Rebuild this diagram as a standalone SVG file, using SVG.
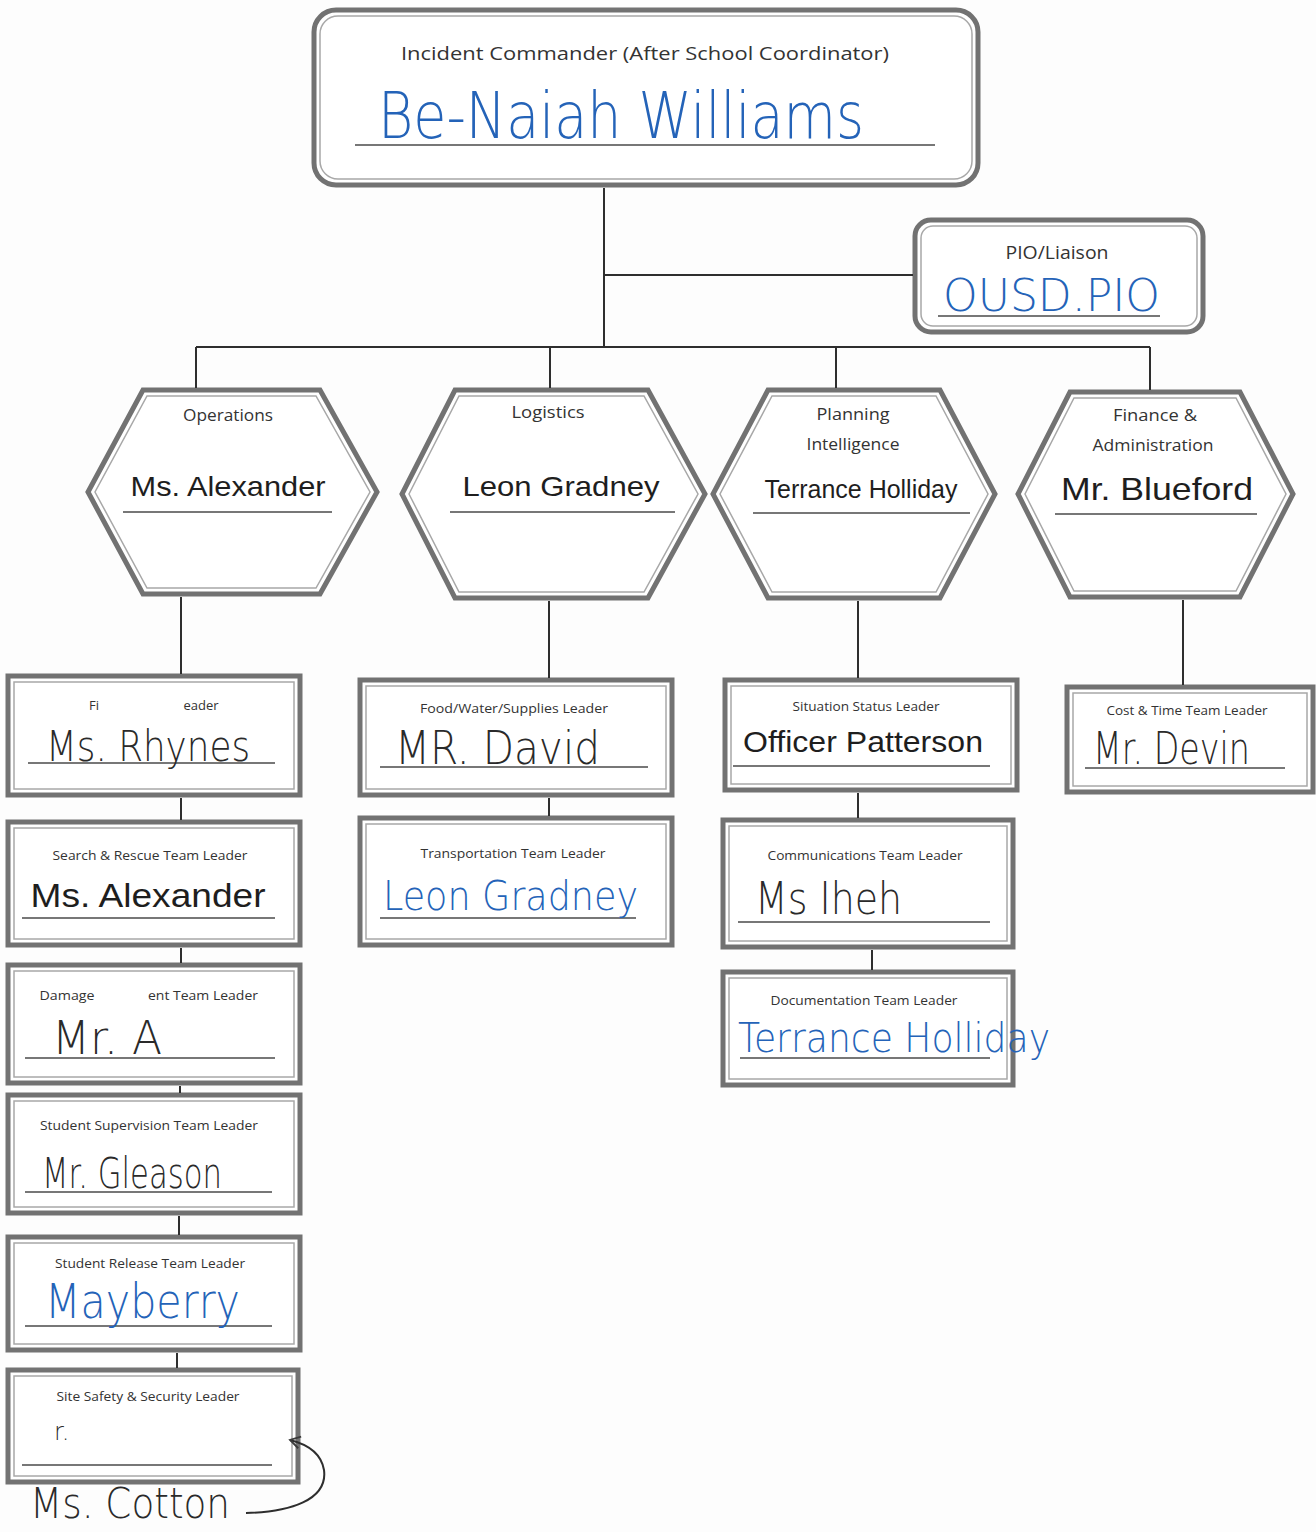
<svg xmlns="http://www.w3.org/2000/svg" width="1316" height="1532" viewBox="0 0 1316 1532">
<style>
.bg{fill:#fdfdfd}
.box{fill:#fff;stroke:#727272;stroke-width:5}
.inner{fill:none;stroke:#a8a8a8;stroke-width:1.5}
.ul{stroke:#4a4a4a;stroke-width:1.6}
.con{stroke:#2e2e2e;stroke-width:2;fill:none}
.lbl{font-family:"Open Sans","Liberation Sans",sans-serif;fill:#333;text-anchor:middle}
.typed{font-family:"Liberation Sans",Arial,sans-serif;fill:#1e1e1e;text-anchor:middle}
.hw{font-family:"DejaVu Sans","Liberation Sans",sans-serif;font-weight:200}
.blue{fill:#2463b8}
.dark{fill:#2a2a2a}
</style>
<defs>
<marker id="ah" markerWidth="14" markerHeight="14" refX="11" refY="7" orient="auto" markerUnits="userSpaceOnUse">
<path d="M1,1 L11,7 L1,13" fill="none" stroke="#3a3a3a" stroke-width="1.8"/>
</marker>
</defs>
<rect class="bg" x="0" y="0" width="1316" height="1532"/>

<g id="incident-commander">
<rect class="box" x="314" y="10" width="664" height="175" rx="22"/>
<rect class="inner" x="320" y="16" width="652" height="163" rx="18"/>
<text class="lbl" x="645" y="60" font-size="19" textLength="488" lengthAdjust="spacingAndGlyphs">Incident Commander (After School Coordinator)</text>
<line class="ul" x1="355" y1="145" x2="935" y2="145"/>
<text class="hw blue" x="378" y="138" font-size="64" textLength="486" lengthAdjust="spacingAndGlyphs">Be-Naiah Williams</text>
</g>

<g id="pio-liaison">
<rect class="box" x="915" y="220" width="288" height="112" rx="16"/>
<rect class="inner" x="921" y="226" width="276" height="100" rx="12"/>
<text class="lbl" x="1057" y="259" font-size="18" textLength="103" lengthAdjust="spacingAndGlyphs">PIO/Liaison</text>
<line class="ul" x1="938" y1="316" x2="1160" y2="316"/>
<text class="hw blue" x="943" y="311" font-size="44" textLength="217" lengthAdjust="spacingAndGlyphs">OUSD.PIO</text>
</g>

<g id="operations">
<polygon class="box" points="143,390 320,390 377,492 320,594 143,594 88,492"/>
<polygon class="inner" points="147,396 316,396 370,492 316,588 147,588 95,492"/>
<text class="lbl" x="228" y="421" font-size="16" textLength="90" lengthAdjust="spacingAndGlyphs">Operations</text>
<text class="typed" x="228" y="496" font-size="28" textLength="195" lengthAdjust="spacingAndGlyphs">Ms. Alexander</text>
<line class="ul" x1="123" y1="512" x2="332" y2="512"/>
</g>

<g id="logistics">
<polygon class="box" points="455,390 648,390 705,494 648,598 455,598 402,494"/>
<polygon class="inner" points="459,396 644,396 698,494 644,592 459,592 409,494"/>
<text class="lbl" x="548" y="418" font-size="16" textLength="73" lengthAdjust="spacingAndGlyphs">Logistics</text>
<text class="typed" x="561" y="496" font-size="28" textLength="197" lengthAdjust="spacingAndGlyphs">Leon Gradney</text>
<line class="ul" x1="450" y1="512" x2="675" y2="512"/>
</g>

<g id="planning-intelligence">
<polygon class="box" points="768,390 940,390 995,494 940,598 768,598 713,494"/>
<polygon class="inner" points="772,396 936,396 988,494 936,592 772,592 720,494"/>
<text class="lbl" x="853" y="420" font-size="16" textLength="73" lengthAdjust="spacingAndGlyphs">Planning</text>
<text class="lbl" x="853" y="450" font-size="16" textLength="93" lengthAdjust="spacingAndGlyphs">Intelligence</text>
<text class="typed" x="861" y="498" font-size="25" textLength="193" lengthAdjust="spacingAndGlyphs">Terrance Holliday</text>
<line class="ul" x1="753" y1="513" x2="970" y2="513"/>
</g>

<g id="finance-administration">
<polygon class="box" points="1070,392 1240,392 1293,494 1240,597 1070,597 1018,494"/>
<polygon class="inner" points="1074,398 1236,398 1286,494 1236,591 1074,591 1025,494"/>
<text class="lbl" x="1155" y="421" font-size="16" textLength="84" lengthAdjust="spacingAndGlyphs">Finance &amp;</text>
<text class="lbl" x="1153" y="451" font-size="16" textLength="121" lengthAdjust="spacingAndGlyphs">Administration</text>
<text class="typed" x="1157" y="500" font-size="32" textLength="192" lengthAdjust="spacingAndGlyphs">Mr. Blueford</text>
<line class="ul" x1="1055" y1="514" x2="1257" y2="514" stroke-width="2.5"/>
</g>

<g id="first-aid">
<rect class="box" x="8" y="676" width="292" height="119"/>
<rect class="inner" x="14" y="682" width="280" height="107"/>
<text class="lbl" x="94" y="710" font-size="13">Fi</text>
<text class="lbl" x="201" y="710" font-size="13">eader</text>
<line class="ul" x1="28" y1="763" x2="275" y2="763"/>
<text class="hw dark" x="46" y="761" font-size="42" textLength="204" lengthAdjust="spacingAndGlyphs">Ms. Rhynes</text>
</g>

<g id="search-rescue">
<rect class="box" x="8" y="822" width="292" height="123"/>
<rect class="inner" x="14" y="828" width="280" height="111"/>
<text class="lbl" x="150" y="860" font-size="13" textLength="195" lengthAdjust="spacingAndGlyphs">Search &amp; Rescue Team Leader</text>
<text class="typed" x="148" y="907" font-size="33" textLength="235" lengthAdjust="spacingAndGlyphs">Ms. Alexander</text>
<line class="ul" x1="22" y1="918" x2="275" y2="918"/>
</g>

<g id="damage-assessment">
<rect class="box" x="8" y="965" width="292" height="118"/>
<rect class="inner" x="14" y="971" width="280" height="106"/>
<text class="lbl" x="67" y="1000" font-size="13" textLength="55" lengthAdjust="spacingAndGlyphs">Damage</text>
<text class="lbl" x="203" y="1000" font-size="13" textLength="110" lengthAdjust="spacingAndGlyphs">ent Team Leader</text>
<line class="ul" x1="25" y1="1058" x2="275" y2="1058"/>
<text class="hw dark" x="52" y="1054" font-size="46" textLength="110" lengthAdjust="spacingAndGlyphs">Mr. A</text>
</g>

<g id="student-supervision">
<rect class="box" x="8" y="1095" width="292" height="118"/>
<rect class="inner" x="14" y="1101" width="280" height="106"/>
<text class="lbl" x="149" y="1130" font-size="13" textLength="218" lengthAdjust="spacingAndGlyphs">Student Supervision Team Leader</text>
<line class="ul" x1="25" y1="1192" x2="272" y2="1192"/>
<text class="hw dark" x="42" y="1188" font-size="42" textLength="180" lengthAdjust="spacingAndGlyphs">Mr. Gleason</text>
</g>

<g id="student-release">
<rect class="box" x="8" y="1237" width="292" height="113"/>
<rect class="inner" x="14" y="1243" width="280" height="101"/>
<text class="lbl" x="150" y="1268" font-size="13" textLength="190" lengthAdjust="spacingAndGlyphs">Student Release Team Leader</text>
<line class="ul" x1="25" y1="1326" x2="272" y2="1326"/>
<text class="hw blue" x="45" y="1318" font-size="48" textLength="195" lengthAdjust="spacingAndGlyphs">Mayberry</text>
</g>

<g id="site-safety">
<rect class="box" x="8" y="1370" width="290" height="112"/>
<rect class="inner" x="14" y="1376" width="278" height="100"/>
<text class="lbl" x="148" y="1401" font-size="13" textLength="183" lengthAdjust="spacingAndGlyphs">Site Safety &amp; Security Leader</text>
<text class="hw dark" x="54" y="1440" font-size="24" fill="#777">r.</text>
<line class="ul" x1="22" y1="1465" x2="272" y2="1465"/>
<text class="hw dark" x="30" y="1518" font-size="42" textLength="200" lengthAdjust="spacingAndGlyphs">Ms. Cotton</text>
</g>

<g id="food-water-supplies">
<rect class="box" x="360" y="680" width="312" height="115"/>
<rect class="inner" x="366" y="686" width="300" height="103"/>
<text class="lbl" x="514" y="713" font-size="13" textLength="188" lengthAdjust="spacingAndGlyphs">Food/Water/Supplies Leader</text>
<line class="ul" x1="380" y1="767" x2="648" y2="767"/>
<text class="hw dark" x="395" y="764" font-size="46" textLength="205" lengthAdjust="spacingAndGlyphs">MR. David</text>
</g>

<g id="transportation">
<rect class="box" x="360" y="818" width="312" height="127"/>
<rect class="inner" x="366" y="824" width="300" height="115"/>
<text class="lbl" x="513" y="858" font-size="13" textLength="185" lengthAdjust="spacingAndGlyphs">Transportation Team Leader</text>
<line class="ul" x1="380" y1="918" x2="636" y2="918"/>
<text class="hw blue" x="383" y="910" font-size="40" textLength="255" lengthAdjust="spacingAndGlyphs">Leon Gradney</text>
</g>

<g id="situation-status">
<rect class="box" x="725" y="680" width="292" height="110"/>
<rect class="inner" x="731" y="686" width="280" height="98"/>
<text class="lbl" x="866" y="711" font-size="13" textLength="147" lengthAdjust="spacingAndGlyphs">Situation Status Leader</text>
<text class="typed" x="863" y="752" font-size="30" textLength="240" lengthAdjust="spacingAndGlyphs">Officer Patterson</text>
<line class="ul" x1="733" y1="766" x2="990" y2="766"/>
</g>

<g id="communications">
<rect class="box" x="723" y="820" width="290" height="127"/>
<rect class="inner" x="729" y="826" width="278" height="115"/>
<text class="lbl" x="865" y="860" font-size="13" textLength="195" lengthAdjust="spacingAndGlyphs">Communications Team Leader</text>
<line class="ul" x1="738" y1="922" x2="990" y2="922"/>
<text class="hw dark" x="755" y="914" font-size="44" textLength="147" lengthAdjust="spacingAndGlyphs">Ms Iheh</text>
</g>

<g id="documentation">
<rect class="box" x="723" y="972" width="290" height="113"/>
<rect class="inner" x="729" y="978" width="278" height="101"/>
<text class="lbl" x="864" y="1005" font-size="13" textLength="187" lengthAdjust="spacingAndGlyphs">Documentation Team Leader</text>
<line class="ul" x1="740" y1="1058" x2="990" y2="1058"/>
<text class="hw blue" x="738" y="1052" font-size="40" textLength="312" lengthAdjust="spacingAndGlyphs">Terrance Holliday</text>
</g>

<g id="cost-time">
<rect class="box" x="1067" y="687" width="246" height="105"/>
<rect class="inner" x="1073" y="693" width="234" height="93"/>
<text class="lbl" x="1187" y="715" font-size="13" textLength="161" lengthAdjust="spacingAndGlyphs">Cost &amp; Time Team Leader</text>
<line class="ul" x1="1085" y1="768" x2="1285" y2="768"/>
<text class="hw dark" x="1093" y="764" font-size="44" textLength="157" lengthAdjust="spacingAndGlyphs">Mr. Devin</text>
</g>

<g id="connectors">
<line class="con" x1="604" y1="188" x2="604" y2="347"/>
<line class="con" x1="604" y1="275" x2="913" y2="275"/>
<line class="con" x1="196" y1="347" x2="1150" y2="347"/>
<line class="con" x1="196" y1="347" x2="196" y2="388"/>
<line class="con" x1="550" y1="347" x2="550" y2="388"/>
<line class="con" x1="836" y1="347" x2="836" y2="388"/>
<line class="con" x1="1150" y1="347" x2="1150" y2="390"/>
<line class="con" x1="181" y1="597" x2="181" y2="674"/>
<line class="con" x1="549" y1="601" x2="549" y2="678"/>
<line class="con" x1="858" y1="601" x2="858" y2="678"/>
<line class="con" x1="1183" y1="600" x2="1183" y2="685"/>
<line class="con" x1="181" y1="798" x2="181" y2="820"/>
<line class="con" x1="181" y1="948" x2="181" y2="963"/>
<line class="con" x1="180" y1="1086" x2="180" y2="1093"/>
<line class="con" x1="179" y1="1216" x2="179" y2="1235"/>
<line class="con" x1="177" y1="1353" x2="177" y2="1368"/>
<line class="con" x1="549" y1="798" x2="549" y2="816"/>
<line class="con" x1="858" y1="793" x2="858" y2="818"/>
<line class="con" x1="872" y1="950" x2="872" y2="970"/>
<path class="con" d="M246,1513 C290,1512 328,1500 324,1470 C321,1452 306,1444 290,1440" stroke-width="1.8" marker-end="url(#ah)"/>
</g>
</svg>
